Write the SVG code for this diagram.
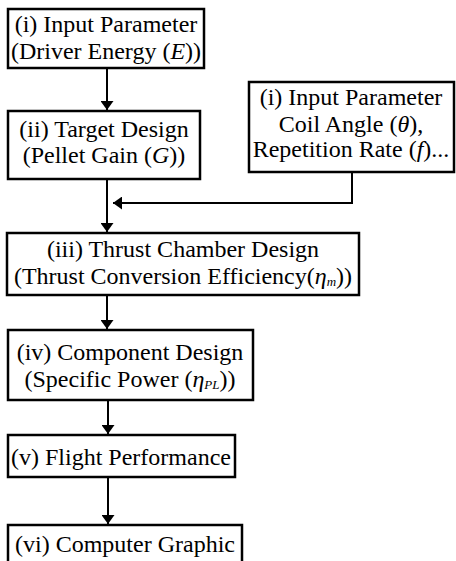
<svg xmlns="http://www.w3.org/2000/svg" width="456" height="561" viewBox="0 0 456 561">
<defs>
<style>
.box{fill:#fff;stroke:#000;stroke-width:2.5}
.t{font-family:'Liberation Serif','DejaVu Serif','Times New Roman',Times,serif;font-size:24px;fill:#000;text-anchor:middle}
.i{font-style:italic}
.sub{font-size:13px;font-style:italic}
.ln{fill:none;stroke:#000;stroke-width:2}
</style>
<marker id="ah" markerWidth="9" markerHeight="13" refX="9" refY="6.5" orient="auto" markerUnits="userSpaceOnUse" viewBox="0 0 9 13">
<path d="M0,0 L9,6.5 L0,13 Z" fill="#000"/>
</marker>
</defs>
<rect width="456" height="561" fill="#fff"/>
<g id="connectors">
<line class="ln" x1="107" y1="68" x2="107" y2="110" marker-end="url(#ah)"/>
<line class="ln" x1="107" y1="179" x2="107" y2="232" marker-end="url(#ah)"/>
<polyline class="ln" points="352,172 352,203 113,203" marker-end="url(#ah)"/>
<line class="ln" x1="107" y1="295" x2="107" y2="329" marker-end="url(#ah)"/>
<line class="ln" x1="108" y1="400" x2="108" y2="434" marker-end="url(#ah)"/>
<line class="ln" x1="108" y1="477" x2="108" y2="524" marker-end="url(#ah)"/>
</g>
<g id="n1">
<rect class="box" x="8" y="9" width="196" height="59"/>
<text class="t" x="106" y="32">(i) Input Parameter</text>
<text class="t" x="106" y="59">(Driver Energy (<tspan class="i">E</tspan>))</text>
</g>
<g id="n2">
<rect class="box" x="8" y="111" width="192" height="68"/>
<text class="t" x="104" y="137">(ii) Target Design</text>
<text class="t" x="104" y="163">(Pellet Gain (<tspan class="i">G</tspan>))</text>
</g>
<g id="n3">
<rect class="box" x="249" y="82" width="205" height="90"/>
<text class="t" x="351" y="105">(i) Input Parameter</text>
<text class="t" x="351" y="132">Coil Angle (<tspan class="i">θ</tspan>),</text>
<text class="t" x="351" y="157">Repetition Rate (<tspan class="i">f</tspan>)...</text>
</g>
<g id="n4">
<rect class="box" x="7" y="233" width="352" height="62"/>
<text class="t" x="183" y="257">(iii) Thrust Chamber Design</text>
<text class="t" x="183" y="284">(Thrust Conversion Efficiency(<tspan class="i">η</tspan><tspan class="sub" dy="2">m</tspan><tspan dy="-2">))</tspan></text>
</g>
<g id="n5">
<rect class="box" x="8" y="330" width="245" height="70"/>
<text class="t" x="130" y="360">(iv) Component Design</text>
<text class="t" x="130" y="387">(Specific Power (<tspan class="i">η</tspan><tspan class="sub" dy="2">PL</tspan><tspan dy="-2">))</tspan></text>
</g>
<g id="n6">
<rect class="box" x="8" y="435" width="227" height="42"/>
<text class="t" x="121" y="465">(v) Flight Performance</text>
</g>
<g id="n7">
<rect class="box" x="8" y="525" width="234" height="42"/>
<text class="t" x="125" y="552">(vi) Computer Graphic</text>
</g>
</svg>
